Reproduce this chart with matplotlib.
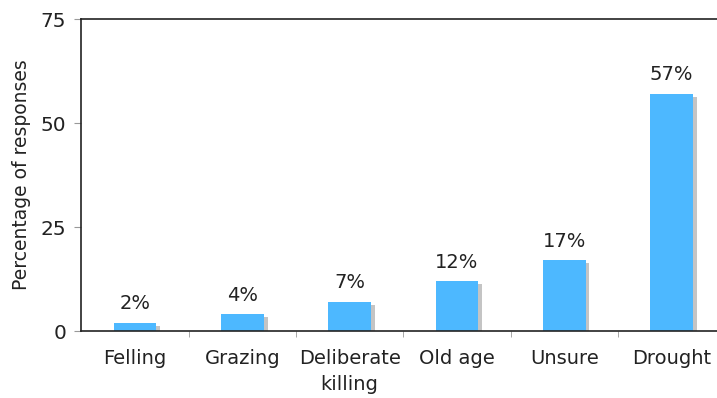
import matplotlib
matplotlib.use("Agg")
import matplotlib.pyplot as plt
import numpy as np

causes = ["Felling", "Grazing", "Deliberate\nkilling", "Old age", "Unsure", "Drought"]
percent = [2, 4, 7, 12, 17, 57]

plt.rcParams['font.family'] = ['DejaVu Sans']

fig = plt.figure(figsize=(7.17, 3.98), dpi=100)
ax = fig.add_axes([0.1135, 0.168, 0.898, 0.784])

x = np.arange(len(causes))
w = 0.40
# grey drop shadow behind each bar
ax.bar(x + 0.035, np.array(percent) - 0.7, width=w, color="#c4c4c4", zorder=1)
ax.bar(x, percent, width=w, color="#4db8ff", zorder=2)

for xi, v in zip(x, percent):
    ax.text(xi, v + 2.3, f"{v}%", ha="center", va="bottom", fontsize=14, color="#222222")

ax.set_xlim(-0.5, 5.5)
ax.set_ylim(0, 75)
ax.set_yticks([0, 25, 50, 75])
ax.set_xticks(x)
ax.set_xticklabels(causes, linespacing=1.45)
ax.set_xticks(x[:-1] + 0.5, minor=True)
ax.tick_params(axis="x", which="major", length=0, pad=13, labelsize=14, labelcolor="#222222")
ax.tick_params(axis="x", which="minor", length=4, color="#999999")
ax.tick_params(axis="y", length=5, color="#999999", pad=6, labelsize=14.5, labelcolor="#222222")
ax.set_ylabel("Percentage of responses", fontsize=13.5, color="#222222", labelpad=7)

for s in ["left", "top", "bottom"]:
    ax.spines[s].set_color("#222222")
    ax.spines[s].set_linewidth(1.2)
ax.spines["right"].set_visible(False)

fig.savefig("out.png", dpi=100)
